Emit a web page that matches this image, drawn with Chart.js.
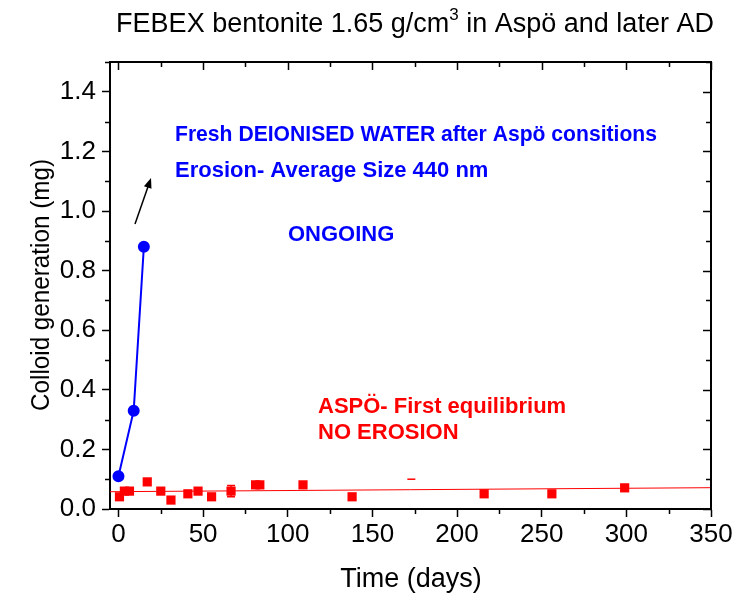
<!DOCTYPE html>
<html lang="en">
<head>
    <meta charset="UTF-8">
    <title>FEBEX bentonite colloid generation</title>
    <script src="https://cdn.jsdelivr.net/npm/chart.js"></script>
    <style>
        body {
            margin: 0;
            padding: 0;
            background-color: #fff;
        }
        #chart {
            display: block;
        }
    </style>
</head>
<body>
    <canvas id="chart" width="743" height="593"></canvas>
    <script>
        // Datos
        // Agua desionizada (azul)
        const deionDays = [0, 9, 15];
        const deionValues = [0.11, 0.33, 0.88];

        // Aspö primer equilibrio (rojo)
        const aspoDays = [0.6, 3.5, 6.5, 17, 25, 31, 41, 47, 55, 66.5, 81, 83.5, 109, 138, 216, 256, 299];
        const aspoValues = [0.041, 0.060, 0.060, 0.091, 0.060, 0.030, 0.051, 0.060, 0.041, 0.060, 0.081, 0.081, 0.081, 0.041, 0.051, 0.051, 0.071];
        const aspoErrors = [0, 0, 0, 0, 0, 0, 0, 0, 0, 0.019, 0, 0, 0, 0, 0, 0, 0];

        // Marca suelta cerca de 173 días
        const dashDays = [173];
        const dashValues = [0.10];

        // Ajuste lineal
        const fitDays = [-5, 350];
        const fitValues = [0.058, 0.0715];

        const xTicks = [0, 50, 100, 150, 200, 250, 300, 350];
        const yTicks = [0.0, 0.2, 0.4, 0.6, 0.8, 1.0, 1.2, 1.4];

        const toPoints = (xs, ys) => xs.map((x, i) => ({ x: x, y: ys[i] }));

        const SANS = '"Liberation Sans", Arial, sans-serif';

        // Plugin: marco, ticks menores, barras de error, textos
        const decorPlugin = {
            id: 'decor',
            afterDatasetsDraw(chart) {
                const ctx = chart.ctx;
                const a = chart.chartArea;
                const xs = chart.scales.x;
                const ys = chart.scales.y;
                ctx.save();

                // barras de error
                ctx.strokeStyle = '#ff0000';
                ctx.lineWidth = 1.5;
                aspoErrors.forEach((e, i) => {
                    if (!e) return;
                    const px = xs.getPixelForValue(aspoDays[i]);
                    const top = ys.getPixelForValue(aspoValues[i] + e);
                    const bot = ys.getPixelForValue(aspoValues[i] - e);
                    ctx.beginPath();
                    ctx.moveTo(px, top); ctx.lineTo(px, bot);
                    ctx.moveTo(px - 4, top); ctx.lineTo(px + 4, top);
                    ctx.moveTo(px - 4, bot); ctx.lineTo(px + 4, bot);
                    ctx.stroke();
                });

                // marco superior y derecho
                ctx.strokeStyle = '#000';
                ctx.lineWidth = 2;
                ctx.beginPath();
                ctx.moveTo(a.left, a.top); ctx.lineTo(a.right, a.top);
                ctx.lineTo(a.right, a.bottom);
                ctx.stroke();

                // ticks
                ctx.lineWidth = 1.5;
                ctx.beginPath();
                for (let v = 0; v <= 350; v += 25) {
                    const px = Math.round(xs.getPixelForValue(v)) + 0.5;
                    const major = v % 50 === 0;
                    const len = major ? 8 : 5;
                    if (!major) {
                        ctx.moveTo(px, a.bottom); ctx.lineTo(px, a.bottom + len);
                    }
                    ctx.moveTo(px, a.top); ctx.lineTo(px, a.top + len);
                }
                for (let k = 0; k <= 15; k++) {
                    const v = k / 10;
                    const py = Math.round(ys.getPixelForValue(v)) + 0.5;
                    const major = k % 2 === 0;
                    const len = major ? 8 : 5;
                    if (!major) {
                        ctx.moveTo(a.left, py); ctx.lineTo(a.left - len, py);
                    }
                    ctx.moveTo(a.right, py); ctx.lineTo(a.right - len, py);
                }
                ctx.stroke();

                // flecha
                ctx.strokeStyle = '#000';
                ctx.fillStyle = '#000';
                ctx.lineWidth = 1.5;
                const x0 = 135, y0 = 224, x1 = 151, y1 = 178;
                const ang = Math.atan2(y1 - y0, x1 - x0);
                ctx.beginPath();
                ctx.moveTo(x0, y0);
                ctx.lineTo(x1 - 6 * Math.cos(ang), y1 - 6 * Math.sin(ang));
                ctx.stroke();
                ctx.beginPath();
                ctx.moveTo(x1, y1);
                ctx.lineTo(x1 - 10 * Math.cos(ang) + 4 * Math.sin(ang), y1 - 10 * Math.sin(ang) - 4 * Math.cos(ang));
                ctx.lineTo(x1 - 10 * Math.cos(ang) - 4 * Math.sin(ang), y1 - 10 * Math.sin(ang) + 4 * Math.cos(ang));
                ctx.closePath();
                ctx.fill();

                // textos
                ctx.textBaseline = 'middle';
                ctx.textAlign = 'left';
                ctx.font = 'bold 22px ' + SANS;
                ctx.fillStyle = '#0000ff';
                ctx.fillText('Fresh DEIONISED WATER after Aspö consitions', 175, 135, 482);
                ctx.fillText('Erosion- Average Size 440 nm', 175, 171);
                ctx.fillText('ONGOING', 288, 235);
                ctx.fillStyle = '#ff0000';
                ctx.fillText('ASPÖ- First equilibrium', 318, 407, 253);
                ctx.fillText('NO EROSION', 318, 433);

                // título con superíndice
                ctx.fillStyle = '#000';
                const f1 = '27px ' + SANS;
                const f2 = '17px ' + SANS;
                const p1 = 'FEBEX bentonite 1.65 g/cm';
                const p2 = '3';
                const p3 = ' in Aspö and later AD';
                ctx.font = f1;
                const w1 = ctx.measureText(p1).width;
                const w3 = ctx.measureText(p3).width;
                ctx.font = f2;
                const w2 = ctx.measureText(p2).width;
                let tx = 415 - (w1 + w2 + w3) / 2;
                ctx.textBaseline = 'alphabetic';
                ctx.font = f1;
                ctx.fillText(p1, tx, 32);
                ctx.font = f2;
                ctx.fillText(p2, tx + w1, 20);
                ctx.font = f1;
                ctx.fillText(p3, tx + w1 + w2, 32);

                // títulos de ejes
                ctx.font = '27px ' + SANS;
                ctx.textAlign = 'center';
                ctx.textBaseline = 'alphabetic';
                ctx.fillText('Time (days)', 411, 587);
                ctx.font = '25px ' + SANS;
                ctx.translate(49, 285);
                ctx.rotate(-Math.PI / 2);
                ctx.fillText('Colloid generation (mg)', 0, 0, 252);
                ctx.restore();
            }
        };

        const tickFont = { family: '"Liberation Sans Narrow", "Arial Narrow", "Liberation Sans", Arial, sans-serif', size: 26 };

        new Chart(document.getElementById('chart'), {
            type: 'scatter',
            data: {
                datasets: [
                    {
                        label: 'Fit',
                        data: toPoints(fitDays, fitValues),
                        showLine: true,
                        borderColor: '#ff0000',
                        borderWidth: 1,
                        pointRadius: 0
                    },
                    {
                        label: 'Aspö',
                        data: toPoints(aspoDays, aspoValues),
                        pointStyle: 'rect',
                        pointRadius: 6.5,
                        backgroundColor: '#ff0000',
                        borderColor: '#ff0000',
                        borderWidth: 0
                    },
                    {
                        label: 'Dash',
                        data: toPoints(dashDays, dashValues),
                        pointStyle: 'line',
                        pointRadius: 4,
                        borderColor: '#ff0000',
                        borderWidth: 1.5
                    },
                    {
                        label: 'Deionised',
                        data: toPoints(deionDays, deionValues),
                        showLine: true,
                        borderColor: '#0000ff',
                        borderWidth: 2,
                        pointStyle: 'circle',
                        pointRadius: 5,
                        backgroundColor: '#0000ff'
                    }
                ]
            },
            options: {
                responsive: false,
                animation: false,
                layout: {
                    padding: { left: 0, top: 62, right: 32, bottom: 0 }
                },
                plugins: {
                    legend: { display: false },
                    tooltip: { enabled: false }
                },
                scales: {
                    x: {
                        type: 'linear',
                        min: -5,
                        max: 350,
                        afterBuildTicks: scale => {
                            scale.ticks = xTicks.map(v => ({ value: v }));
                        },
                        afterFit: scale => { scale.height = 84; },
                        ticks: {
                            color: '#000',
                            font: tickFont,
                            padding: 2,
                            maxRotation: 0
                        },
                        grid: {
                            drawOnChartArea: false,
                            drawTicks: true,
                            tickLength: 8,
                            tickWidth: 1.5,
                            tickColor: '#000'
                        },
                        border: { display: true, color: '#000', width: 2 }
                    },
                    y: {
                        type: 'linear',
                        min: 0,
                        max: 1.5,
                        afterBuildTicks: scale => {
                            scale.ticks = yTicks.map(v => ({ value: v }));
                        },
                        afterFit: scale => { scale.width = 110; },
                        ticks: {
                            color: '#000',
                            font: tickFont,
                            padding: 6,
                            callback: v => v.toFixed(1)
                        },
                        grid: {
                            drawOnChartArea: false,
                            drawTicks: true,
                            tickLength: 8,
                            tickWidth: 1.5,
                            tickColor: '#000'
                        },
                        border: { display: true, color: '#000', width: 2 }
                    }
                }
            },
            plugins: [decorPlugin]
        });
    </script>
</body>
</html>
